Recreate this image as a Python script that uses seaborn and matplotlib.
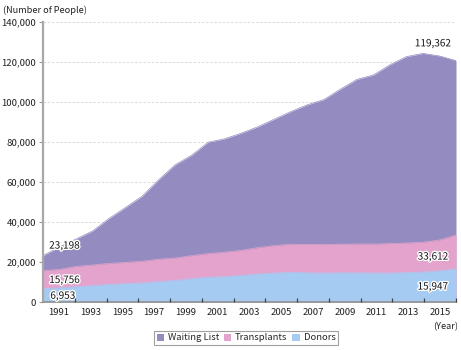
import matplotlib
matplotlib.use("Agg")
import matplotlib.pyplot as plt
import matplotlib.patheffects as pe
from matplotlib.patches import Patch
from matplotlib.ticker import FuncFormatter, MultipleLocator
import seaborn as sns
import pandas as pd

# ---- data ----
years = list(range(1991, 2017))
waiting_list = [23200, 27500, 31500, 35500, 41800, 47300, 52900, 61100, 68600, 73400,
                79900, 81600, 84400, 87600, 91400, 95200, 98600, 101200, 106400, 111300,
                113500, 118600, 122700, 124300, 123000, 120700]
transplants = [15600, 16300, 17800, 18500, 19300, 19800, 20400, 21400, 22000, 23200,
               24200, 24900, 25800, 27200, 28200, 28900, 28800, 28700, 28900, 29000,
               29000, 29200, 29500, 29900, 31000, 33500]
donors = [6700, 7100, 7700, 8200, 8800, 9200, 9600, 10200, 10800, 11700,
          12400, 12700, 13300, 14000, 14500, 14800, 14600, 14500, 14600, 14600,
          14500, 14500, 14700, 15000, 15600, 16600]
series_names = ["Waiting List", "Transplants", "Donors"]
label_years = list(range(1991, 2016, 2))
tick_years = list(range(1992, 2017, 2))
annotations = [("23,198", 1992.3, 28200), ("15,756", 1992.3, 11000), ("6,953", 1992.2, 3100),
               ("119,362", 2014.6, 129300), ("33,612", 2014.6, 22700), ("15,947", 2014.6, 7700)]

colors = {"Waiting List": "#948cc0", "Transplants": "#e4a3cc", "Donors": "#a5cbf3"}

df = pd.DataFrame({"year": years, "Waiting List": waiting_list,
                   "Transplants": transplants, "Donors": donors})
long = df.melt(id_vars="year", var_name="series", value_name="people")

sns.set_theme(style="white")
plt.rcParams["font.family"] = ["Noto Sans CJK KR", "DejaVu Sans"]

fig = plt.figure(figsize=(4.61, 3.5), dpi=100)
ax = fig.add_axes([43 / 461, 48 / 350, 413 / 461, 280 / 350])

for name in series_names:
    sub = long[long["series"] == name]
    ax.fill_between(sub["year"], 0, sub["people"], color=colors[name], linewidth=0, zorder=2)
    sns.lineplot(data=sub, x="year", y="people", ax=ax, color=colors[name],
                 linewidth=0.5, legend=False, zorder=3)

ax.set_xlim(years[0], years[-1])
ax.set_ylim(0, 140000)
ax.yaxis.set_major_locator(MultipleLocator(20000))
ax.yaxis.set_major_formatter(FuncFormatter(lambda v, p: f"{int(v):,}"))
ax.grid(axis="y", color="#d4d4d4", linestyle=(0, (3, 2)), linewidth=0.6, zorder=0)
ax.set_axisbelow(True)
ax.set_xlabel("")
ax.set_ylabel("")
ax.tick_params(axis="y", labelsize=6.9, colors="#222222", length=3, width=0.8,
               color="#999999", pad=2, left=True)
ax.set_xticks([])
for s in ["top", "right"]:
    ax.spines[s].set_visible(False)
ax.spines["left"].set_color("#a8a8a8")
ax.spines["left"].set_linewidth(1.6)
ax.spines["bottom"].set_color("#9a9a9a")
ax.spines["bottom"].set_linewidth(1.4)
ax.spines["left"].set_zorder(5)
ax.spines["bottom"].set_zorder(5)

# labelled year axis (slot grid as in the reference)
ax2 = ax.twiny()
ax2.set_xlim(1990, 2016)
ax2.xaxis.set_ticks_position("bottom")
ax2.xaxis.set_label_position("bottom")
ax2.set_xticks(tick_years)
ax2.set_xticklabels([])
ax2.set_xticks(label_years, minor=True)
ax2.set_xticklabels([str(y) for y in label_years], minor=True)
ax2.tick_params(axis="x", which="major", direction="in", length=3, width=0.9,
                color="#444444")
ax2.tick_params(axis="x", which="minor", length=0, labelsize=6.9, colors="#222222", pad=4)
for s in ["top", "right", "left", "bottom"]:
    ax2.spines[s].set_visible(False)
ax2.grid(False)

halo = [pe.withStroke(linewidth=2, foreground="white")]
for txt, xv, yv in annotations:
    ax.text(xv, yv, txt, ha="center", va="center", fontsize=7.2, color="#111111",
            path_effects=halo, zorder=10)

fig.text(3 / 461, 1 - 10 / 350, "(Number of People)", ha="left", va="center",
         fontsize=6.6, color="#222222")
fig.text(458 / 461, 1 - 327 / 350, "(Year)", ha="right", va="center",
         fontsize=6.6, color="#222222")

handles = [Patch(facecolor=colors[n], edgecolor="none", label=n) for n in series_names]
leg = fig.legend(handles=handles, loc="center", bbox_to_anchor=(246 / 461, 1 - 338 / 350),
                 ncol=3, fontsize=6.8, frameon=True, fancybox=False, handlelength=0.8,
                 handleheight=0.8, handletextpad=0.4, columnspacing=0.5,
                 borderpad=0.3, borderaxespad=0.2, edgecolor="#888888")
leg.get_frame().set_linewidth(0.8)

fig.savefig("out.png", dpi=100)
